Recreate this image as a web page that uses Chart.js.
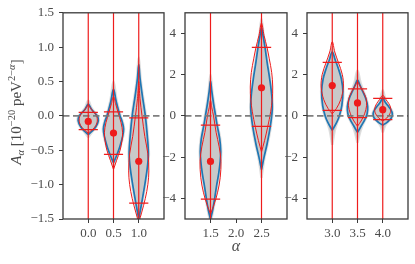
<!DOCTYPE html>
<html><head><meta charset="utf-8">
<script src="https://cdn.jsdelivr.net/npm/chart.js@4/dist/chart.umd.min.js"></script>
<style>
html,body{margin:0;padding:0;background:#fff;width:415px;height:264px;overflow:hidden}
canvas{position:absolute;top:0}
</style></head><body>
<canvas id="p0" width="170" height="264" style="left:0px"></canvas>
<canvas id="p1" width="145" height="264" style="left:150px"></canvas>
<canvas id="p2" width="143" height="264" style="left:272px"></canvas>
<script>
// ---------- data ----------
const panelXMin = [-0.5, 1.0, 2.5];
const panelXMax = [1.5, 3.0, 4.5];
const panelYMin = [-1.5, -5, -5];
const panelYMax = [1.5, 5, 5];
const xTicks = [[0.0, 0.5, 1.0], [1.5, 2.0, 2.5], [3.0, 3.5, 4.0]];
const yTicks = [[-1.5, -1.0, -0.5, 0.0, 0.5, 1.0, 1.5], [-4, -2, 0, 2, 4], [-4, -2, 0, 2, 4]];

const alphas     = [0.0, 0.5, 1.0, 1.5, 2.5, 3.0, 3.5, 4.0];
const panelIndex = [0, 0, 0, 1, 1, 2, 2, 2];
const meanA  = [-0.08, -0.25, -0.66, -2.21, 1.36, 1.47, 0.63, 0.30];
const upperA = [0.05, 0.06, -0.03, -0.45, 3.32, 2.60, 1.31, 0.85];
const lowerA = [-0.20, -0.56, -1.27, -4.04, -0.51, 0.27, -0.08, -0.18];

// violin profiles: [A value, half width in alpha units]
const grayShape = [
  [[-0.31,0],[-0.22,0.09],[-0.16,0.16],[-0.07,0.21],[0.0,0.19],[0.05,0.13],[0.12,0.06],[0.22,0]],
  [[-0.74,0],[-0.58,0.07],[-0.46,0.13],[-0.3,0.19],[-0.19,0.21],[-0.08,0.18],[0,0.14],[0.12,0.095],[0.25,0.055],[0.5,0]],
  [[-1.55,0],[-1.3,0.06],[-1.0,0.13],[-0.75,0.18],[-0.55,0.2],[-0.3,0.18],[0,0.14],[0.3,0.08],[0.55,0.035],[0.85,0]],
  [[-5.2,0],[-4.6,0.05],[-4.1,0.085],[-3.45,0.125],[-2.8,0.17],[-2.2,0.2],[-1.7,0.21],[-1.1,0.19],[-0.45,0.14],[0,0.11],[0.6,0.07],[1.2,0.035],[2.0,0]],
  [[-3.0,0],[-2.0,0.06],[-1.35,0.12],[-0.55,0.18],[0.3,0.22],[1.0,0.21],[1.8,0.17],[2.6,0.12],[3.3,0.08],[3.9,0.04],[4.7,0]],
  [[-1.4,0],[-0.7,0.05],[-0.3,0.1],[0,0.15],[0.5,0.2],[1.2,0.22],[1.8,0.19],[2.3,0.13],[2.7,0.07],[3.3,0]],
  [[-1.3,0],[-0.8,0.05],[-0.5,0.09],[-0.2,0.15],[0.1,0.2],[0.45,0.21],[0.8,0.18],[1.2,0.12],[1.6,0.06],[2.2,0]],
  [[-0.8,0],[-0.45,0.05],[-0.3,0.1],[-0.1,0.18],[0.1,0.2],[0.3,0.17],[0.5,0.11],[0.8,0.05],[1.25,0]]
];
const blueShape = [
  [[-0.27,0],[-0.22,0.08],[-0.16,0.15],[-0.07,0.2],[0.0,0.18],[0.05,0.12],[0.1,0.06],[0.17,0]],
  [[-0.68,0],[-0.58,0.06],[-0.46,0.12],[-0.3,0.18],[-0.19,0.2],[-0.08,0.17],[0,0.13],[0.12,0.085],[0.22,0.05],[0.39,0]],
  [[-1.5,0],[-1.3,0.05],[-1.0,0.12],[-0.75,0.17],[-0.55,0.19],[-0.3,0.17],[0,0.13],[0.3,0.07],[0.55,0.025],[0.75,0]],
  [[-5,0],[-4.6,0.04],[-4.1,0.075],[-3.45,0.115],[-2.8,0.16],[-2.2,0.19],[-1.7,0.2],[-1.1,0.18],[-0.45,0.13],[0,0.1],[0.6,0.06],[1.2,0.025],[1.7,0]],
  [[-2.6,0],[-2.0,0.05],[-1.35,0.11],[-0.55,0.17],[0.3,0.21],[1.0,0.2],[1.8,0.16],[2.6,0.11],[3.3,0.07],[3.9,0.03],[4.3,0]],
  [[-0.7,0],[-0.3,0.09],[0,0.14],[0.5,0.19],[1.2,0.21],[1.8,0.18],[2.3,0.12],[2.7,0.06],[3.1,0]],
  [[-0.8,0],[-0.5,0.07],[-0.2,0.14],[0.1,0.19],[0.45,0.2],[0.8,0.17],[1.2,0.1],[1.5,0.045],[1.75,0]],
  [[-0.45,0],[-0.3,0.09],[-0.1,0.17],[0.1,0.19],[0.3,0.16],[0.5,0.1],[0.7,0.04],[0.88,0]]
];
const redShape = [
  [[-0.25,0],[-0.2,0.08],[-0.14,0.15],[-0.06,0.18],[0.02,0.15],[0.07,0.09],[0.12,0.04],[0.16,0]],
  [[-0.78,0],[-0.65,0.06],[-0.5,0.13],[-0.35,0.17],[-0.24,0.18],[-0.1,0.15],[0.05,0.09],[0.18,0.04],[0.28,0]],
  [[-1.55,0],[-1.4,0.06],[-1.2,0.13],[-1.0,0.18],[-0.8,0.2],[-0.55,0.18],[-0.3,0.12],[0,0.065],[0.25,0.025],[0.5,0]],
  [[-4.75,0],[-4.3,0.07],[-3.7,0.14],[-3.0,0.19],[-2.2,0.205],[-1.5,0.17],[-0.8,0.11],[0,0.06],[0.4,0.025],[0.75,0]],
  [[-1.75,0],[-1.2,0.06],[-0.55,0.12],[0.2,0.18],[0.8,0.21],[1.4,0.22],[2.1,0.2],[2.8,0.15],[3.3,0.11],[3.9,0.05],[4.5,0]],
  [[0.1,0],[0.35,0.08],[0.8,0.17],[1.4,0.22],[2.0,0.2],[2.6,0.12],[3.1,0.05],[3.6,0]],
  [[-0.5,0],[-0.25,0.07],[0.1,0.14],[0.5,0.18],[0.85,0.17],[1.2,0.11],[1.45,0.05],[1.65,0]],
  [[-0.25,0],[-0.1,0.08],[0.1,0.14],[0.35,0.16],[0.6,0.12],[0.8,0.06],[1.0,0]]
];

// ---------- styling ----------
const FONT = '"Liberation Serif", "DejaVu Serif", serif';
const TXT = '#4a4a4a';
const AX = '#3a3a3a';
const RED = '#ee1c1c';
const BLUE = '#1f77b4';
const CAPW = 0.19;
const yAxisWidth = [63, 35, 35];
const padRight = [6, 8, 7];

function outline(profile, pos) {
  const right = profile.map(([v, w]) => ({x: pos + w, y: v}));
  const left = profile.slice(0, -1).reverse().map(([v, w]) => ({x: pos - w, y: v}));
  return right.concat(left);
}
function fmt(v, dec) {
  const s = Math.abs(v).toFixed(dec);
  return (v < 0 ? '\u2212' : '') + s;
}

const framePlugin = {
  id: 'frame',
  afterDatasetsDraw(chart) {
    const a = chart.chartArea, ctx = chart.ctx;
    ctx.save();
    ctx.strokeStyle = AX; ctx.lineWidth = 1.3;
    ctx.strokeRect(a.left, a.top, a.right - a.left, a.bottom - a.top);
    ctx.restore();
  }
};

function drawSegments(ctx, segs) {
  let total = 0;
  segs.forEach(s => { ctx.font = s.f; s.w = ctx.measureText(s.t).width; total += s.w; });
  let x = -total / 2;
  segs.forEach(s => { ctx.font = s.f; ctx.fillText(s.t, x, s.dy); x += s.w; });
}

const yTitlePlugin = {
  id: 'ytitle',
  afterDraw(chart) {
    const ctx = chart.ctx;
    ctx.save();
    ctx.translate(21, 112);
    ctx.rotate(-Math.PI / 2);
    ctx.fillStyle = TXT;
    ctx.textBaseline = 'alphabetic';
    const big = '15px ' + FONT, bigI = 'italic 15px ' + FONT, sm = '10.5px ' + FONT, smI = 'italic 10.5px ' + FONT;
    drawSegments(ctx, [
      {t: 'A', f: bigI, dy: 0},
      {t: '\u03b1', f: smI, dy: 3},
      {t: ' [10', f: big, dy: 0},
      {t: '\u221220', f: sm, dy: -6},
      {t: ' peV', f: big, dy: 0},
      {t: '2\u2212', f: sm, dy: -6},
      {t: '\u03b1', f: smI, dy: -6},
      {t: ']', f: big, dy: 0}
    ]);
    ctx.restore();
  }
};
const xTitlePlugin = {
  id: 'xtitle',
  afterDraw(chart) {
    const ctx = chart.ctx, a = chart.chartArea;
    ctx.save();
    ctx.fillStyle = TXT;
    ctx.font = 'italic 16px ' + FONT;
    ctx.textAlign = 'center';
    ctx.textBaseline = 'middle';
    ctx.fillText('\u03b1', (a.left + a.right) / 2, 247);
    ctx.restore();
  }
};

function buildPanel(p) {
  const ds = [];
  const lineCfg = {showLine: true, pointRadius: 0, pointHoverRadius: 0, tension: 0.35};
  const capData = [], vData = [], dotData = [];
  alphas.forEach((a, i) => {
    if (panelIndex[i] !== p) return;
    ds.push(Object.assign({}, lineCfg, {data: outline(grayShape[i], a), fill: 'shape',
      backgroundColor: 'rgba(198,198,198,0.95)', borderColor: 'rgba(200,200,200,0.6)', borderWidth: 2.5, order: 10}));
    ds.push(Object.assign({}, lineCfg, {data: outline(blueShape[i], a), fill: false,
      borderColor: BLUE, borderWidth: 1.7, order: 8}));
    ds.push(Object.assign({}, lineCfg, {data: outline(redShape[i], a), fill: false,
      borderColor: RED, borderWidth: 1.0, order: 6}));
    vData.push({x: a, y: panelYMin[p]}, {x: a, y: panelYMax[p]}, {x: a, y: null});
    capData.push({x: a - CAPW, y: upperA[i]}, {x: a + CAPW, y: upperA[i]}, {x: a, y: null});
    capData.push({x: a - CAPW, y: lowerA[i]}, {x: a + CAPW, y: lowerA[i]}, {x: a, y: null});
    dotData.push({x: a, y: meanA[i]});
  });
  ds.push({data: [{x: panelXMin[p], y: 0}, {x: panelXMax[p], y: 0}], showLine: true, pointRadius: 0,
    borderColor: 'rgba(120,120,120,0.95)', borderWidth: 1.9, borderDash: [6.5, 3.5], fill: false, order: 5});
  ds.push({data: vData, showLine: true, pointRadius: 0, spanGaps: false, borderColor: RED, borderWidth: 1.2, fill: false, order: 4});
  ds.push({data: capData, showLine: true, pointRadius: 0, spanGaps: false, borderColor: RED, borderWidth: 1.2, fill: false, order: 3});
  ds.push({data: dotData, showLine: false, pointRadius: 3.6, pointBackgroundColor: RED, pointBorderWidth: 0, order: 2});

  const decX = 1, decY = p === 0 ? 1 : 0;
  const plugins = [framePlugin];
  if (p === 0) plugins.push(yTitlePlugin);
  if (p === 1) plugins.push(xTitlePlugin);

  return new Chart(document.getElementById('p' + p), {
    type: 'scatter',
    data: {datasets: ds},
    plugins: plugins,
    options: {
      responsive: false, animation: false, devicePixelRatio: 1,
      layout: {padding: {left: 0, right: padRight[p], top: 11, bottom: 0}},
      plugins: {legend: {display: false}, tooltip: {enabled: false}},
      scales: {
        x: {
          type: 'linear', min: panelXMin[p], max: panelXMax[p],
          afterBuildTicks: s => { s.ticks = xTicks[p].map(v => ({value: v})); },
          afterFit: s => { s.height = 45; },
          border: {display: false},
          grid: {drawOnChartArea: false, drawTicks: true, tickLength: 4, color: AX, tickWidth: 1},
          ticks: {color: TXT, font: {family: FONT, size: 13}, padding: 3, maxRotation: 0,
            callback: v => fmt(v, decX)}
        },
        y: {
          type: 'linear', min: panelYMin[p], max: panelYMax[p],
          afterBuildTicks: s => { s.ticks = yTicks[p].map(v => ({value: v})); },
          afterFit: s => { s.width = yAxisWidth[p]; },
          border: {display: false},
          grid: {drawOnChartArea: false, drawTicks: true, tickLength: 4, color: AX, tickWidth: 1},
          ticks: {color: TXT, font: {family: FONT, size: 13}, padding: 5,
            callback: v => fmt(v, decY)}
        }
      }
    }
  });
}
[0, 1, 2].forEach(buildPanel);
</script>
</body></html>
